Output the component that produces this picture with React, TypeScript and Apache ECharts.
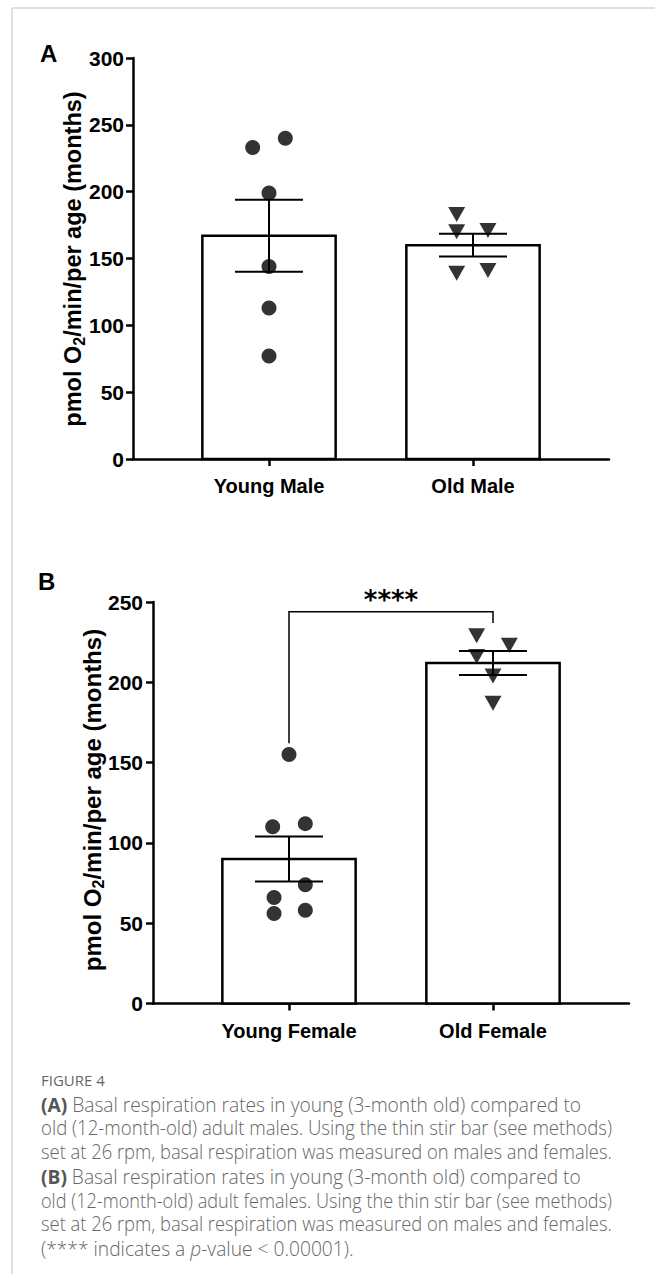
import React, { useEffect, useRef } from "react";
import * as echarts from "echarts";

// ---------- data ----------
const categoriesA = ["Young Male", "Old Male"];
const categoriesB = ["Young Female", "Old Female"];
const categoryPos = [1, 2.5];

const meansA = [167, 160];
const semsA = [27, 8.5];
const meansB = [90, 212];
const semsB = [14, 7.5];

const youngMale = [233, 240, 199, 144, 113, 77];
const youngMaleJitter = [-0.12, 0.12, 0, 0, 0, 0];
const oldMale = [183, 170, 171, 139, 141];
const oldMaleJitter = [-0.12, -0.12, 0.11, -0.12, 0.11];

const youngFemale = [155, 110, 112, 74, 66, 56, 58];
const youngFemaleJitter = [0, -0.12, 0.12, 0.12, -0.11, -0.11, 0.12];
const oldFemale = [229, 223, 216, 204, 187];
const oldFemaleJitter = [-0.12, 0.12, -0.12, 0, 0];

const sigBracket = [244, 162, 237]; // top, left drop end, right drop end
const sigLabel = "****";

const yAxisNameParts = ["pmol O", "2", "/min/per age (months)"];

const captionTitle = "FIGURE 4";
const captionLines = [
  "{b|(A)} Basal respiration rates in young (3-month old) compared to",
  "old (12-month-old) adult males. Using the thin stir bar (see methods)",
  "set at 26 rpm, basal respiration was measured on males and females.",
  "{b|(B)} Basal respiration rates in young (3-month old) compared to",
  "old (12-month-old) adult females. Using the thin stir bar (see methods)",
  "set at 26 rpm, basal respiration was measured on males and females.",
  "(**** indicates a {i|p}-value < 0.00001).",
];
const captionJustified = [false, true, true, false, true, true, false];

// ---------- styling ----------
const FONT = "'Liberation Sans', Arial, Helvetica, sans-serif";
const CAP_FONT = "'Open Sans', Lato, sans-serif";
const CAP_SIZE = 19.2;
const CAP_WEIGHT = 300;
const CAP_LEFT = 41;
const CAP_RIGHT = 612;
const BAR_HALF = 0.49;
const CAP_HALF = 0.25;

function pts(values: number[], jitter: number[], pos: number) {
  return values.map((v, i) => [pos + jitter[i], v]);
}

function measure(text: string, font: string) {
  try {
    const c = document.createElement("canvas");
    const ctx = c.getContext("2d");
    if (!ctx) return 0;
    ctx.font = font;
    return ctx.measureText(text).width;
  } catch (e) {
    return 0;
  }
}

function barRender(params: any, api: any) {
  const x = api.value(0);
  const m = api.value(1);
  const s = api.value(2);
  const tl = api.coord([x - BAR_HALF, m]);
  const br = api.coord([x + BAR_HALF, 0]);
  const top = api.coord([x, m + s]);
  const bot = api.coord([x, m - s]);
  const cl = api.coord([x - CAP_HALF, m]);
  const cr = api.coord([x + CAP_HALF, m]);
  const ls = { stroke: "#000", lineWidth: 2 };
  return {
    type: "group",
    children: [
      {
        type: "rect",
        shape: { x: tl[0], y: tl[1], width: br[0] - tl[0], height: br[1] - tl[1] },
        style: { fill: "#fff", stroke: "#000", lineWidth: 2.5 },
      },
      { type: "line", shape: { x1: top[0], y1: top[1], x2: bot[0], y2: bot[1] }, style: ls },
      { type: "line", shape: { x1: cl[0], y1: top[1], x2: cr[0], y2: top[1] }, style: ls },
      { type: "line", shape: { x1: cl[0], y1: bot[1], x2: cr[0], y2: bot[1] }, style: ls },
    ],
  };
}

function xAxisFor(gridIndex: number, cats: string[]) {
  return {
    type: "value",
    gridIndex,
    min: 0,
    max: 3.5,
    interval: 0.5,
    splitLine: { show: false },
    axisLine: { show: true, lineStyle: { color: "#000", width: 2.5 } },
    axisTick: {
      show: true,
      customValues: categoryPos,
      length: 7,
      lineStyle: { color: "#000", width: 2.5 },
    },
    axisLabel: {
      show: true,
      customValues: categoryPos,
      formatter: (v: number) => {
        const idx = categoryPos.indexOf(v);
        return idx >= 0 ? cats[idx] : "";
      },
      fontSize: 20,
      fontWeight: "bold",
      fontFamily: FONT,
      color: "#000",
      margin: 17,
    },
  };
}

function yAxisFor(gridIndex: number, max: number, margin: number) {
  return {
    type: "value",
    gridIndex,
    min: 0,
    max,
    interval: 50,
    splitLine: { show: false },
    axisLine: { show: true, lineStyle: { color: "#000", width: 2.5 } },
    axisTick: { show: true, length: 7, lineStyle: { color: "#000", width: 2.5 } },
    axisLabel: {
      show: true,
      fontSize: 21,
      fontWeight: "bold",
      fontFamily: FONT,
      color: "#000",
      margin,
    },
  };
}

function yName(x: number, y: number, size: number) {
  return {
    type: "text",
    x,
    y,
    rotation: Math.PI / 2,
    style: {
      text:
        "{t|" + yAxisNameParts[0] + "}{s|" + yAxisNameParts[1] + "}{t|" + yAxisNameParts[2] + "}",
      align: "center",
      verticalAlign: "middle",
      rich: {
        t: { fontSize: size, fontWeight: "bold", fontFamily: FONT, fill: "#000", lineHeight: size + 5 },
        s: {
          fontSize: Math.round(size * 0.66),
          fontWeight: "bold",
          fontFamily: FONT,
          fill: "#000",
          lineHeight: Math.round(size * 0.66),
          verticalAlign: "bottom",
        },
      },
    },
  };
}

export default function App() {
  const ref = useRef<HTMLDivElement>(null);

  useEffect(() => {
    if (!ref.current) return;
    const chart = echarts.init(ref.current, null, { renderer: "svg" });

    const capFontStr = `${CAP_WEIGHT} ${CAP_SIZE}px ${CAP_FONT}`;
    const targetW = CAP_RIGHT - CAP_LEFT;
    const captionGraphics = captionLines.map((line, i) => {
      let scaleX = 1;
      if (captionJustified[i]) {
        const plain = line.replace(/\{\w\|([^}]*)\}/g, "$1");
        const w = measure(plain, capFontStr);
        if (w > 0) scaleX = targetW / w;
      }
      return {
        type: "text",
        x: CAP_LEFT,
        y: 1104 + i * 24,
        scaleX,
        style: {
          text: line,
          fontSize: CAP_SIZE,
          fontWeight: CAP_WEIGHT,
          fontFamily: CAP_FONT,
          fill: "#666",
          verticalAlign: "middle",
          align: "left",
          rich: {
            b: { fontSize: CAP_SIZE, fontWeight: "bold", fontFamily: CAP_FONT, fill: "#555" },
            i: { fontSize: CAP_SIZE, fontWeight: CAP_WEIGHT, fontStyle: "italic", fontFamily: CAP_FONT, fill: "#666" },
          },
        },
      };
    });

    const option: any = {
      animation: false,
      backgroundColor: "#fff",
      grid: [
        { left: 133, top: 58, width: 476, height: 401, outerBoundsMode: "none", containLabel: false },
        { left: 153, top: 602, width: 476, height: 401.5, outerBoundsMode: "none", containLabel: false },
      ],
      xAxis: [xAxisFor(0, categoriesA), xAxisFor(1, categoriesB)],
      yAxis: [yAxisFor(0, 300, 9), yAxisFor(1, 250, 10)],
      graphic: [
        { type: "line", shape: { x1: 12, y1: 8, x2: 655, y2: 8 }, style: { stroke: "#d6d6d6", lineWidth: 1.5 } },
        { type: "line", shape: { x1: 12, y1: 8, x2: 12, y2: 1274 }, style: { stroke: "#d6d6d6", lineWidth: 1.5 } },
        {
          type: "text",
          x: 40,
          y: 53,
          style: { text: "A", fontSize: 24, fontWeight: "bold", fontFamily: FONT, fill: "#000", verticalAlign: "middle" },
        },
        {
          type: "text",
          x: 38,
          y: 581,
          style: { text: "B", fontSize: 24, fontWeight: "bold", fontFamily: FONT, fill: "#000", verticalAlign: "middle" },
        },
        yName(73, 259, 23.5),
        yName(92, 800, 24),
        {
          type: "text",
          x: CAP_LEFT,
          y: 1080,
          style: {
            text: captionTitle,
            fontSize: 15,
            fontFamily: CAP_FONT,
            fill: "#666",
            verticalAlign: "middle",
          },
        },
        ...captionGraphics,
      ],
      series: [
        // Panel A
        {
          type: "custom",
          xAxisIndex: 0,
          yAxisIndex: 0,
          renderItem: barRender,
          data: categoryPos.map((p, i) => [p, meansA[i], semsA[i]]),
          z: 1,
        },
        {
          type: "scatter",
          xAxisIndex: 0,
          yAxisIndex: 0,
          symbol: "circle",
          symbolSize: 15,
          itemStyle: { color: "#000" },
          data: pts(youngMale, youngMaleJitter, categoryPos[0]),
          z: 3,
        },
        {
          type: "scatter",
          xAxisIndex: 0,
          yAxisIndex: 0,
          symbol: "triangle",
          symbolRotate: 180,
          symbolSize: [17, 15],
          itemStyle: { color: "#000" },
          data: pts(oldMale, oldMaleJitter, categoryPos[1]),
          z: 3,
        },
        // Panel B
        {
          type: "custom",
          xAxisIndex: 1,
          yAxisIndex: 1,
          renderItem: barRender,
          data: categoryPos.map((p, i) => [p, meansB[i], semsB[i]]),
          z: 1,
        },
        {
          type: "scatter",
          xAxisIndex: 1,
          yAxisIndex: 1,
          symbol: "circle",
          symbolSize: 15,
          itemStyle: { color: "#000" },
          data: pts(youngFemale, youngFemaleJitter, categoryPos[0]),
          z: 3,
        },
        {
          type: "scatter",
          xAxisIndex: 1,
          yAxisIndex: 1,
          symbol: "triangle",
          symbolRotate: 180,
          symbolSize: [17, 15],
          itemStyle: { color: "#000" },
          data: pts(oldFemale, oldFemaleJitter, categoryPos[1]),
          z: 3,
        },
        {
          type: "custom",
          xAxisIndex: 1,
          yAxisIndex: 1,
          data: [[categoryPos[0], categoryPos[1], sigBracket[0], sigBracket[1], sigBracket[2]]],
          renderItem: (params: any, api: any) => {
            const x1 = api.value(0);
            const x2 = api.value(1);
            const top = api.value(2);
            const l = api.value(3);
            const r = api.value(4);
            const a = api.coord([x1, l]);
            const b = api.coord([x1, top]);
            const c = api.coord([x2, top]);
            const d = api.coord([x2, r]);
            return {
              type: "group",
              children: [
                {
                  type: "polyline",
                  shape: { points: [a, b, c, d] },
                  style: { stroke: "#000", lineWidth: 1.5, fill: null },
                },
                {
                  type: "text",
                  x: (b[0] + c[0]) / 2,
                  y: b[1] - 12,
                  style: {
                    text: sigLabel,
                    fontSize: 26,
                    fontWeight: "bold",
                    fontFamily: "'DejaVu Sans', sans-serif",
                    fill: "#000",
                    align: "center",
                    verticalAlign: "middle",
                  },
                },
              ],
            };
          },
          z: 4,
        },
      ],
    };

    chart.setOption(option);
    return () => chart.dispose();
  }, []);

  return (
    <div
      ref={ref}
      style={{ position: "absolute", left: 0, top: 0, width: 655, height: 1274 }}
    />
  );
}
